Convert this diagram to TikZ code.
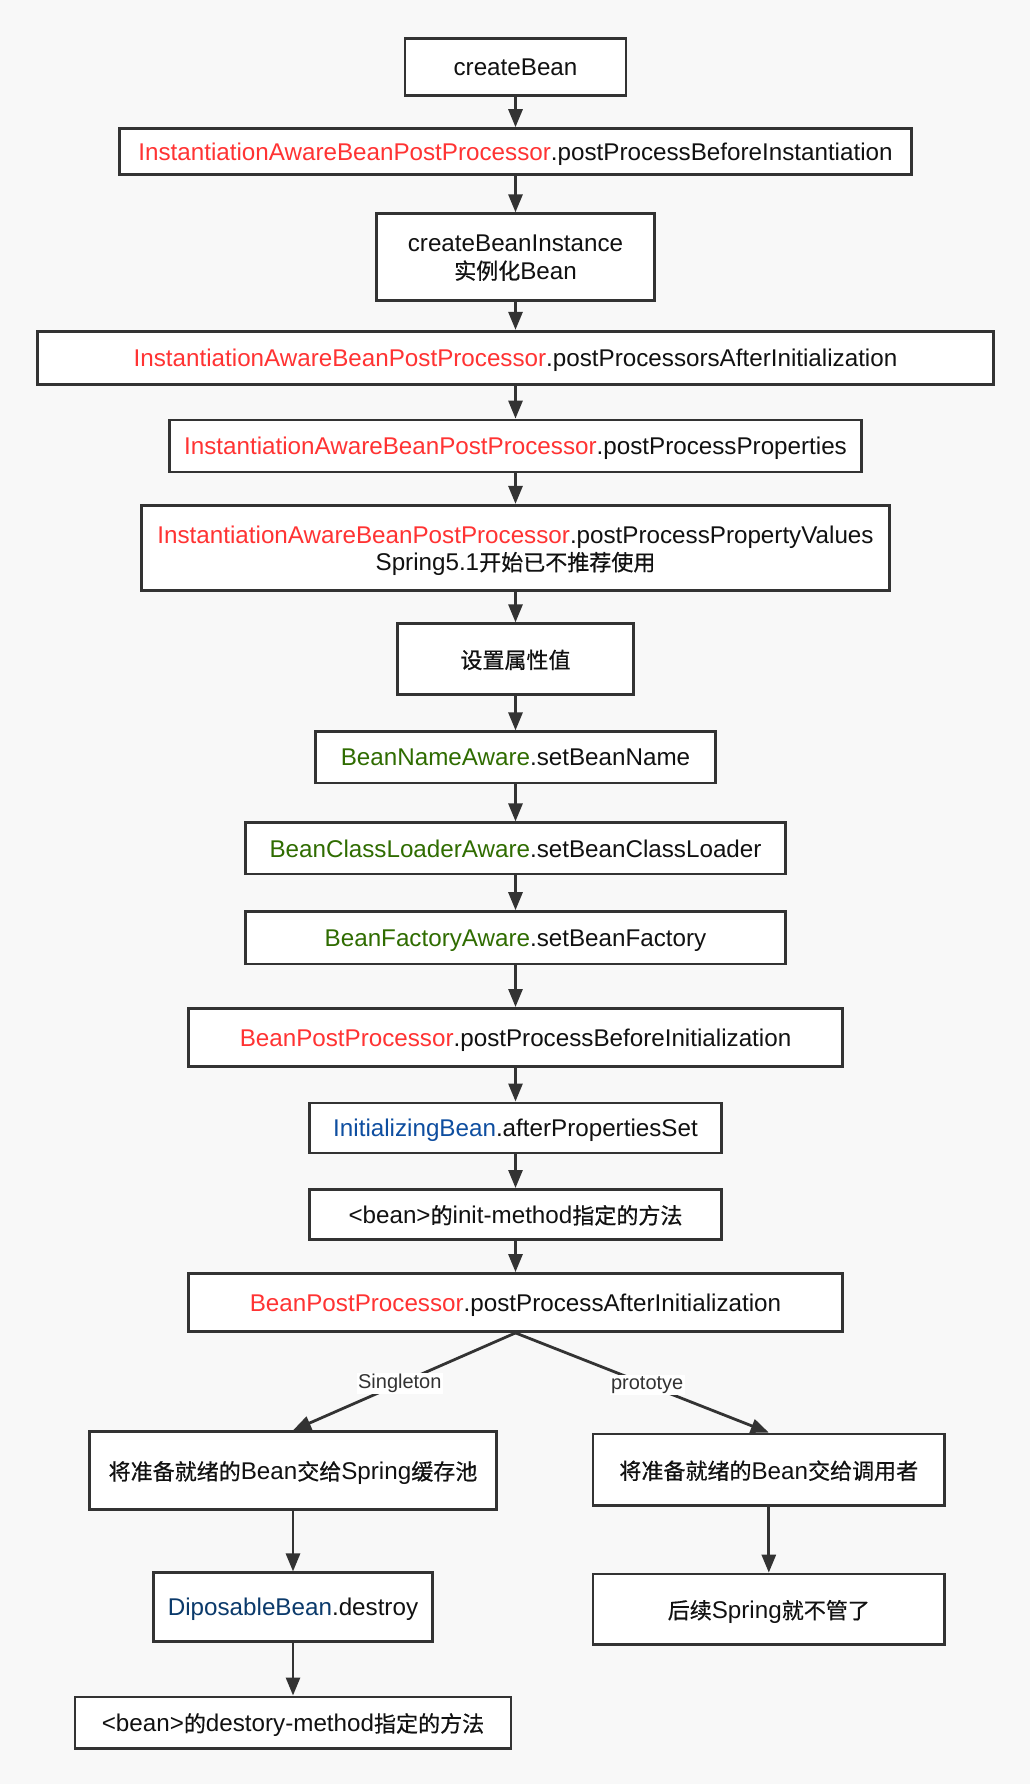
\documentclass[tikz,border=0pt]{standalone}
\usepackage{fontspec}
\setmainfont{Liberation Sans}
\newfontfamily\cjk[Scale=0.91,FakeBold=0.6]{Noto Sans CJK SC}
\usetikzlibrary{arrows.meta}
\definecolor{bg}{HTML}{F8F8F8}
\definecolor{edge}{HTML}{333333}
\definecolor{txt}{HTML}{111111}
\definecolor{rd}{HTML}{FF3333}
\definecolor{gr}{HTML}{2F6C00}
\definecolor{bl}{HTML}{0E4EA0}
\definecolor{nv}{HTML}{0B3A6B}
\definecolor{lblc}{HTML}{333333}
\newcommand{\R}[1]{\textcolor{rd}{#1}}
\newcommand{\G}[1]{\textcolor{gr}{#1}}
\begin{document}
\begin{tikzpicture}[x=1pt,y=-1pt,
  box/.style={draw=edge, line width=2.8pt, fill=white, inner sep=0pt, align=center,
    text depth=0pt, font=\fontsize{24.2}{27.5}\selectfont, text=txt},
  arr/.style={draw=edge, line width=2.8pt, -{Triangle[length=18pt,width=14pt]}},
  lbl/.style={fill=white, font=\fontsize{20}{22}\selectfont, text=lblc, inner sep=1.5pt}]
\fill[bg] (0,0) rectangle (1030,1784);
\useasboundingbox (0,0) rectangle (1030,1784);

\node[box, minimum width=221, minimum height=57] (n1) at (515.5,67) {createBean};
\node[box, minimum width=792, minimum height=45.5] (n2) at (515.5,151.4) {\R{InstantiationAwareBeanPostProcessor}.postProcessBeforeInstantiation};
\node[box, minimum width=278, minimum height=86.5] (n3) at (515.5,257) {createBeanInstance\\{\cjk 实例化}Bean};
\node[box, minimum width=956, minimum height=53.5] (n4) at (515.5,358) {\R{InstantiationAwareBeanPostProcessor}.postProcessorsAfterInitialization};
\node[box, minimum width=692, minimum height=52] (n5) at (515.5,446) {\R{InstantiationAwareBeanPostProcessor}.postProcessProperties};
\node[box, minimum width=748, minimum height=85.4] (n6) at (515.5,548) {\R{InstantiationAwareBeanPostProcessor}.postProcessPropertyValues\\Spring5.1{\cjk 开始已不推荐使用}};
\node[box, minimum width=235.6, minimum height=70.5] (n7) at (515.5,659) {{\cjk 设置属性值}};
\node[box, minimum width=399.5, minimum height=51.2] (n8) at (515.5,757.4) {\G{BeanNameAware}.setBeanName};
\node[box, minimum width=539.5, minimum height=51.2] (n9) at (515.5,848.4) {\G{BeanClassLoaderAware}.setBeanClassLoader};
\node[box, minimum width=539.5, minimum height=52.4] (n10) at (515.5,937.8) {\G{BeanFactoryAware}.setBeanFactory};
\node[box, minimum width=654.4, minimum height=58] (n11) at (515.5,1037.4) {\R{BeanPostProcessor}.postProcessBeforeInitialization};
\node[box, minimum width=412, minimum height=50] (n12) at (515.5,1127.9) {\textcolor{bl}{InitializingBean}.afterPropertiesSet};
\node[box, minimum width=412, minimum height=50] (n13) at (515.5,1214.4) {<bean>{\cjk 的}init-method{\cjk 指定的方法}};
\node[box, minimum width=654.4, minimum height=58] (n14) at (515.5,1302.5) {\R{BeanPostProcessor}.postProcessAfterInitialization};
\node[box, minimum width=406.3, minimum height=77.4] (n15) at (293,1470.4) {{\cjk 将准备就绪的}Bean{\cjk 交给}Spring{\cjk 缓存池}};
\node[box, minimum width=351.7, minimum height=71.7] (n16) at (768.8,1469.8) {{\cjk 将准备就绪的}Bean{\cjk 交给调用者}};
\node[box, minimum width=278.8, minimum height=68.3] (n17) at (293,1607) {\textcolor{nv}{DiposableBean}.destroy};
\node[box, minimum width=351.7, minimum height=70.5] (n18) at (768.8,1609.3) {{\cjk 后续}Spring{\cjk 就不管了}};
\node[box, minimum width=435.9, minimum height=51.2] (n19) at (293,1722.5) {<bean>{\cjk 的}destory-method{\cjk 指定的方法}};

\foreach \a/\b in {n1/n2,n2/n3,n3/n4,n4/n5,n5/n6,n6/n7,n7/n8,n8/n9,n9/n10,n10/n11,n11/n12,n12/n13,n13/n14,n15/n17,n17/n19,n16/n18}
  \draw[arr] (\a.south) -- (\b.north);
\draw[arr] (n14.south) -- node[lbl, pos=0.52] {Singleton} (n15.north);
\draw[arr] (n14.south) -- node[lbl, pos=0.52] {prototye} (n16.north);
\end{tikzpicture}
\end{document}
